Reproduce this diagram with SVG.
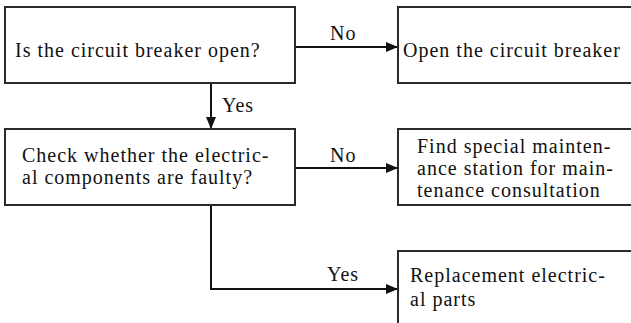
<svg xmlns="http://www.w3.org/2000/svg" width="631" height="323" viewBox="0 0 631 323">
<defs>
<marker id="arr" markerWidth="12" markerHeight="10" refX="11" refY="5" orient="auto" markerUnits="userSpaceOnUse">
<path d="M0,0 L12,5 L0,10 Z" fill="#111"/>
</marker>
<style>
.box{fill:#fff;stroke:#2a2a2a;stroke-width:2}
.t{font-family:"Liberation Serif","Times New Roman",serif;font-size:20px;letter-spacing:1px;fill:#111}
.c{fill:none;stroke:#111;stroke-width:2}
</style>
</defs>
<rect width="631" height="323" fill="#fff"/>
<g id="connectors">
<line class="c" x1="295" y1="47" x2="397" y2="47" marker-end="url(#arr)"/>
<line class="c" x1="211" y1="83" x2="211" y2="128" marker-end="url(#arr)"/>
<line class="c" x1="295" y1="168" x2="397" y2="168" marker-end="url(#arr)"/>
<polyline class="c" points="211,205 211,289 397,289" marker-end="url(#arr)"/>
<text class="t" x="330" y="40">No</text>
<text class="t" x="222" y="112">Yes</text>
<text class="t" x="330" y="162">No</text>
<text class="t" x="327" y="281">Yes</text>
</g>
<g id="n1">
<rect class="box" x="5" y="7" width="290" height="76"/>
<text class="t" x="15" y="57">Is the circuit breaker open?</text>
</g>
<g id="n2">
<rect class="box" x="398" y="7" width="250" height="76"/>
<text class="t" x="403" y="57">Open the circuit breaker</text>
</g>
<g id="n3">
<rect class="box" x="5" y="129" width="290" height="76"/>
<text class="t" x="22" y="162">Check whether the electric-</text>
<text class="t" x="22" y="184">al components are faulty?</text>
</g>
<g id="n4">
<rect class="box" x="398" y="129" width="250" height="76"/>
<text class="t" x="417" y="153">Find special mainten-</text>
<text class="t" x="417" y="175">ance station for main-</text>
<text class="t" x="417" y="197">tenance consultation</text>
</g>
<g id="n5">
<rect class="box" x="398" y="251" width="250" height="90"/>
<text class="t" x="410" y="282">Replacement electric-</text>
<text class="t" x="410" y="306">al parts</text>
</g>
</svg>
